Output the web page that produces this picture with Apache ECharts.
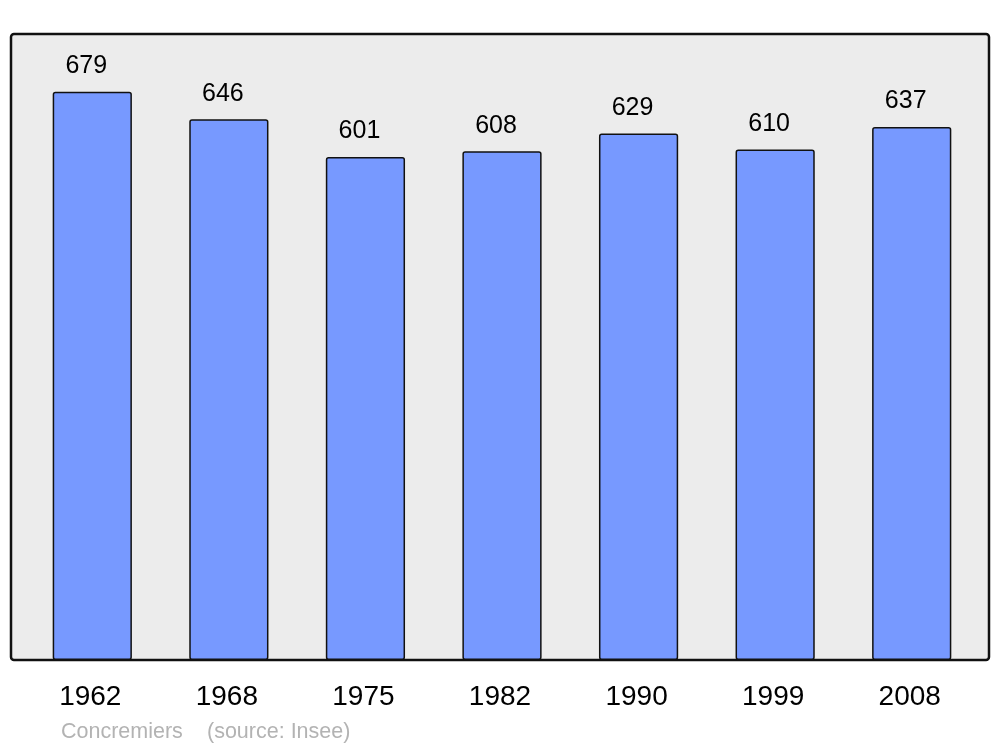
<!DOCTYPE html>
<html><head><meta charset="utf-8">
<script src="https://cdn.jsdelivr.net/npm/echarts@6/dist/echarts.min.js"></script>
<style>html,body{margin:0;padding:0;background:#fff}#c{width:1000px;height:747px}</style>
</head><body><div id="c"></div>
<script>
const years = ['1962','1968','1975','1982','1990','1999','2008'];
const population = [679,646,601,608,629,610,637];
const commune = 'Concremiers';
const source = '(source: Insee)';

const chart = echarts.init(document.getElementById('c'), null, {renderer:'canvas'});
chart.setOption({
  animation:false,
  backgroundColor:'#ffffff',
  textStyle:{fontFamily:'Liberation Sans, Arial, sans-serif'},
  graphic:[
    {type:'rect', z:-10, shape:{x:11,y:34,width:978,height:626,r:3},
     style:{fill:'#ececec', stroke:'#111', lineWidth:2.5}},
    {type:'text', left:61, top:721, style:{text:commune, fill:'#b3b3b3', font:'21.5px "Liberation Sans", Arial, sans-serif'}},
    {type:'text', left:207, top:721, style:{text:source, fill:'#b3b3b3', font:'21.5px "Liberation Sans", Arial, sans-serif'}}
  ],
  grid:{left:24, right:20, top:34, bottom:87},
  xAxis:{type:'category', data:years,
    axisLine:{show:false}, axisTick:{show:false},
    axisLabel:{fontSize:28, color:'#000', margin:23, fontFamily:'Liberation Sans', padding:[0,4,0,0]}},
  yAxis:{type:'value', min:0, max:748, show:false, splitLine:{show:false}},
  series:[{type:'bar', data:population, barWidth:'58%',
    itemStyle:{color:'#7799ff', borderColor:'#111', borderWidth:1.5, borderRadius:2},
    label:{show:true, position:'top', distance:13, offset:[-6,0], fontSize:25, color:'#000', fontFamily:'Liberation Sans'}
  }]
});
</script></body></html>
